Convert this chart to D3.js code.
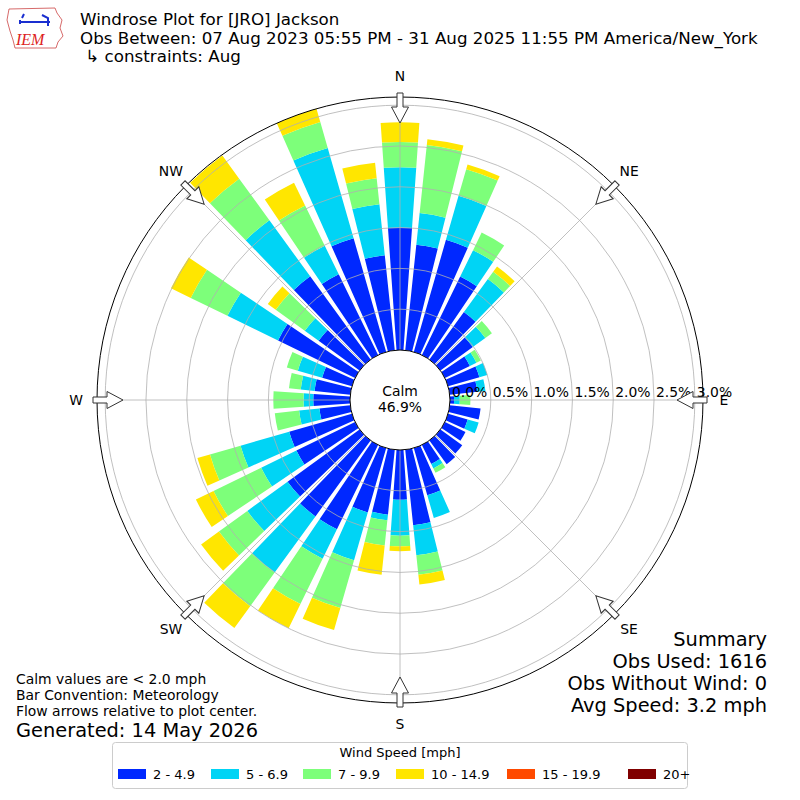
<!DOCTYPE html>
<html>
<head>
<meta charset="utf-8">
<script src="https://cdn.jsdelivr.net/npm/d3@7"></script>
<style>
  body { margin: 0; background: #fff; }
  svg { font-family: "DejaVu Sans", sans-serif; }
</style>
</head>
<body>
<div id="main"></div>
<script>
//data: percent of all obs, directions 0..350 every 10 deg
const directions = d3.range(0, 360, 10);
const speedBins = ['2 - 4.9', '5 - 6.9', '7 - 9.9', '10 - 14.9', '15 - 19.9', '20+'];
const binColors = ['#0028ff', '#00d4f5', '#7dff7a', '#ffe600', '#ff4a00', '#800000'];

const spd2to5 = [1.50, 1.30, 1.43, 1.07, 0.72, 0.49, 0.34, 0.40, 0.34, 0.05, 0.38, 0.25,
  0.28, 0.33, 0.36, 0.26, 0.60, 0.93, 0.61, 0.80, 0.82, 1.15, 1.15, 1.09,
  0.80, 0.80, 0.38, 0.45, 0.44, 0.38, 1.05, 0.62, 1.26, 1.10, 1.45, 1.17];
const spd5to7 = [0.74, 0.39, 0.56, 0.36, 0.50, 0.19, 0.09, 0.10, 0.10, 0.07, 0, 0.14,
  0, 0, 0, 0.06, 0.29, 0.37, 0.44, 0.07, 0.61, 0.40, 0.85, 0.61,
  0.48, 0.62, 0.25, 0.12, 0.17, 0.31, 0.69, 0.21, 0.85, 0.39, 1.15, 0.63];
const spd7to10 = [0.31, 0.84, 0.34, 0.24, 0.11, 0.10, 0.06, 0, 0, 0.13, 0, 0,
  0, 0, 0, 0.06, 0, 0.24, 0.13, 0.31, 0.61, 0.62, 0.51, 0.43,
  0.65, 0.39, 0.30, 0.37, 0.145, 0.14, 0.50, 0.44, 0.63, 0.55, 0.33, 0.32];
const spd10to15 = [0.24, 0.07, 0.06, 0, 0.08, 0, 0, 0, 0, 0, 0, 0,
  0, 0, 0, 0, 0, 0.12, 0.06, 0.36, 0.28, 0.33, 0.33, 0.27,
  0.24, 0.16, 0, 0, 0, 0, 0.27, 0.12, 0.35, 0.31, 0.17, 0.19];
const spd15to20 = directions.map(() => 0);
const spd20plus = directions.map(() => 0);

const rTicks = [0, 0.5, 1.0, 1.5, 2.0, 2.5, 3.0];
const compass = ['N', 'NE', 'E', 'SE', 'S', 'SW', 'W', 'NW'];
const calmPct = '46.9%';

const titleLines = ['Windrose Plot for [JRO] Jackson',
  'Obs Between: 07 Aug 2023 05:55 PM - 31 Aug 2025 11:55 PM America/New_York',
  ' \u21b3 constraints: Aug'];
const footLines = ['Calm values are < 2.0 mph', 'Bar Convention: Meteorology',
  'Flow arrows relative to plot center.'];
const generated = 'Generated: 14 May 2026';
const summaryLines = ['Summary', 'Obs Used: 1616', 'Obs Without Wind: 0', 'Avg Speed: 3.2 mph'];

//constants
const cx = 400, cy = 400;
const calmR = 50;
const outerR = 303;
const barFrac = 0.8;

const svg = d3.select('#main')
  .append('svg')
  .attr('width', 800)
  .attr('height', 800);

//scales
const r = d3.scaleLinear()
  .domain([0, 3.1])
  .range([calmR, outerR]);

const series = [spd2to5, spd5to7, spd7to10, spd10to15, spd15to20, spd20plus];

//stack the bins per direction
const rows = directions.map((d, i) => {
  const row = {dir: d};
  speedBins.forEach((b, j) => { row[b] = series[j][i]; });
  return row;
});
const stacked = d3.stack().keys(speedBins)(rows);

const rose = svg.append('g')
  .attr('transform', `translate(${cx}, ${cy})`);

const rad = deg => deg * Math.PI / 180;
const half = 10 * barFrac / 2;

const arc = d3.arc()
  .innerRadius(d => r(d[0]))
  .outerRadius(d => r(d[1]))
  .startAngle(d => rad(d.data.dir - half))
  .endAngle(d => rad(d.data.dir + half));

rose.selectAll('g.bin')
  .data(stacked)
  .enter()
  .append('g')
  .attr('class', 'bin')
  .attr('fill', (d, i) => binColors[i])
  .selectAll('path')
  .data(d => d.filter(s => s[1] - s[0] > 0))
  .enter()
  .append('path')
  .attr('d', arc);

//grid on top of bars
rose.selectAll('circle.ring')
  .data(rTicks.slice(1))
  .enter()
  .append('circle')
  .attr('class', 'ring')
  .attr('r', d => r(d))
  .attr('fill', 'none')
  .attr('stroke', '#b0b0b0')
  .attr('stroke-width', 0.8);

rose.selectAll('line.spoke')
  .data(d3.range(0, 360, 45))
  .enter()
  .append('line')
  .attr('x1', 0).attr('y1', 0)
  .attr('x2', d => outerR * Math.sin(rad(d)))
  .attr('y2', d => -outerR * Math.cos(rad(d)))
  .attr('stroke', '#b0b0b0')
  .attr('stroke-width', 0.8);

rose.append('circle')
  .attr('r', outerR)
  .attr('fill', 'none')
  .attr('stroke', '#000')
  .attr('stroke-width', 1);

//calm circle
rose.append('circle')
  .attr('r', calmR)
  .attr('fill', '#fff')
  .attr('stroke', '#000')
  .attr('stroke-width', 1);

rose.append('text')
  .attr('x', 0).attr('y', -4)
  .attr('text-anchor', 'middle')
  .style('font-size', '13.9px')
  .text('Calm');
rose.append('text')
  .attr('x', 0).attr('y', 12)
  .attr('text-anchor', 'middle')
  .style('font-size', '13.9px')
  .text(calmPct);

//radial labels
rose.selectAll('text.rlab')
  .data(rTicks)
  .enter()
  .append('text')
  .attr('class', 'rlab')
  .attr('x', d => r(d) + 2)
  .attr('y', -3)
  .style('font-size', '13.9px')
  .text(d => d3.format('.1f')(d) + '%');

//compass labels + inward flow arrows
rose.selectAll('text.dir')
  .data(compass)
  .enter()
  .append('text')
  .attr('class', 'dir')
  .attr('x', (d, i) => 324 * Math.sin(rad(i * 45)))
  .attr('y', (d, i) => -324 * Math.cos(rad(i * 45)))
  .attr('dy', '0.36em')
  .attr('text-anchor', 'middle')
  .style('font-size', '13.9px')
  .text(d => d);

const arrowPath = 'M -3,-307 L 3,-307 L 3,-293 L 8.5,-293 L 0,-277 L -8.5,-293 L -3,-293 Z';
rose.selectAll('path.arrow')
  .data(compass)
  .enter()
  .append('path')
  .attr('class', 'arrow')
  .attr('d', arrowPath)
  .attr('transform', (d, i) => `rotate(${i * 45})`)
  .attr('fill', '#fff')
  .attr('stroke', '#333')
  .attr('stroke-width', 1);

//titles
svg.selectAll('text.title')
  .data(titleLines)
  .enter()
  .append('text')
  .attr('class', 'title')
  .attr('x', 80)
  .attr('y', (d, i) => 25 + i * 18.5)
  .style('font-size', '16.7px')
  .attr('xml:space', 'preserve')
  .text(d => d);

//IEM logo (rough)
const logo = svg.append('g');
logo.append('path')
  .attr('d', 'M9,9 L55,8 L57,13 L62,20 L60,28 L63,36 L58,42 L56,48 L15,48 L13,40 L10,31 L7,20 Z')
  .attr('fill', 'none')
  .attr('stroke', '#c44')
  .attr('stroke-width', 0.8);
logo.append('path')
  .attr('d', 'M20,22 L50,22 M24,14 L22,18 M42,15 L48,18 L48,26 M20,20 L20,24')
  .attr('fill', 'none')
  .attr('stroke', '#1a2fd0')
  .attr('stroke-width', 2);
logo.append('text')
  .attr('x', 16).attr('y', 45)
  .style('font-family', '"Liberation Serif", serif')
  .style('font-style', 'italic')
  .style('font-size', '16px')
  .attr('fill', '#d22')
  .text('IEM');

//footnotes
svg.selectAll('text.foot')
  .data(footLines)
  .enter()
  .append('text')
  .attr('class', 'foot')
  .attr('x', 16)
  .attr('y', (d, i) => 684 + i * 16)
  .style('font-size', '13.9px')
  .text(d => d);

svg.append('text')
  .attr('x', 16)
  .attr('y', 737)
  .style('font-size', '19.4px')
  .text(generated);

svg.selectAll('text.summary')
  .data(summaryLines)
  .enter()
  .append('text')
  .attr('class', 'summary')
  .attr('x', 767)
  .attr('y', (d, i) => 646 + i * 22)
  .attr('text-anchor', 'end')
  .style('font-size', '19.4px')
  .text(d => d);

//legend
const legend = svg.append('g');
legend.append('rect')
  .attr('x', 112.5).attr('y', 742.5)
  .attr('width', 575).attr('height', 46)
  .attr('rx', 3)
  .attr('fill', '#fff')
  .attr('stroke', '#ccc');
legend.append('text')
  .attr('x', 400).attr('y', 757)
  .attr('text-anchor', 'middle')
  .style('font-size', '13px')
  .text('Wind Speed [mph]');

const legendX = [118, 211, 303, 396, 507, 628];
const items = legend.selectAll('g.item')
  .data(speedBins)
  .enter()
  .append('g')
  .attr('class', 'item')
  .attr('transform', (d, i) => `translate(${legendX[i]}, 769)`);
items.append('rect')
  .attr('width', 28).attr('height', 10)
  .attr('fill', (d, i) => binColors[i]);
items.append('text')
  .attr('x', 35).attr('y', 9.5)
  .style('font-size', '13px')
  .text(d => d);
</script>
</body>
</html>
